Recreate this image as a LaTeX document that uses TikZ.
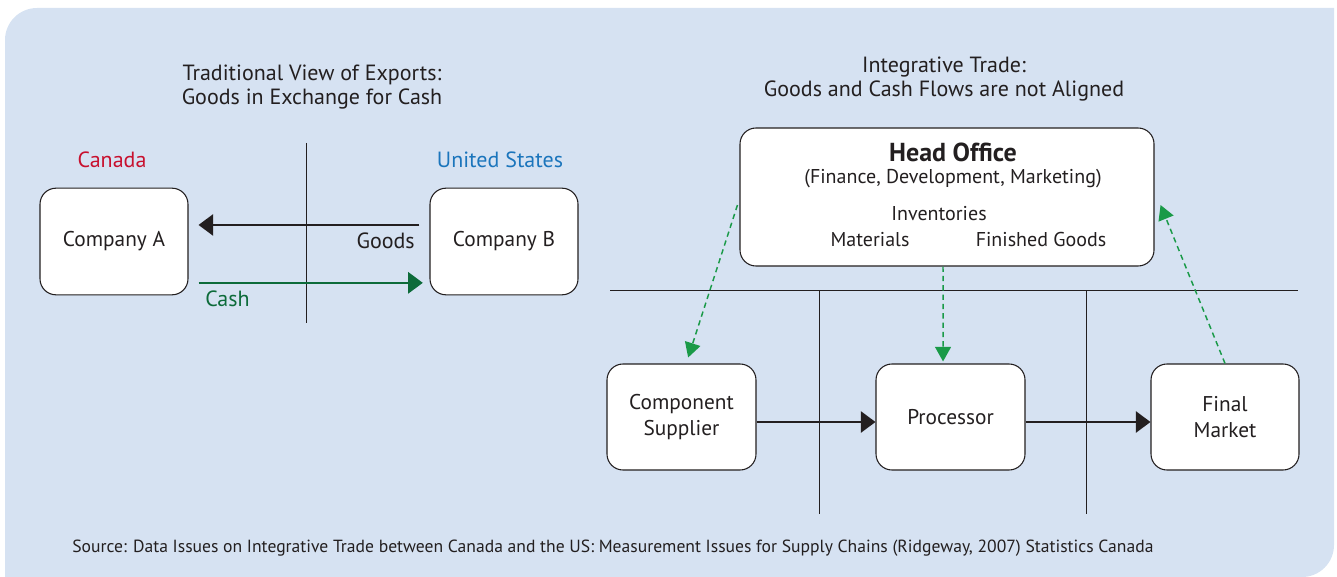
\documentclass[tikz,border=0pt]{standalone}
\usepackage{fontspec}
\setmainfont{PT Sans}
\usetikzlibrary{arrows.meta}
\definecolor{panel}{HTML}{D6E2F2}
\definecolor{canred}{HTML}{C8102E}
\definecolor{usblue}{HTML}{1B75BC}
\definecolor{cashgreen}{HTML}{0D6B3A}
\definecolor{flowgreen}{HTML}{1A9A48}
\definecolor{ink}{HTML}{231F20}
\tikzset{
  firm/.style={draw=ink, line width=0.8pt, fill=white, rounded corners=12pt, inner sep=0pt,
    font=\fontsize{16}{19}\selectfont, text=ink, align=center},
  lbl/.style={font=\fontsize{16.5}{18}\selectfont, text=ink, align=center, inner sep=0pt},
  inner/.style={lbl, font=\fontsize{15}{17}\selectfont},
  divider/.style={draw=ink, line width=0.75pt},
  goodsflow/.style={draw=ink, line width=1.4pt, -{Triangle[length=11pt,width=16pt]}},
  cashflow/.style={draw=cashgreen, line width=1.4pt, -{Triangle[length=11pt,width=16pt]}},
  moneyflow/.style={draw=flowgreen, line width=1.1pt, dash pattern=on 4pt off 3pt, -{Triangle[length=11pt,width=12pt]}},
}
\begin{document}
\begin{tikzpicture}[x=0.75pt,y=-0.75pt]
\useasboundingbox (0,0) rectangle (1337,577);
% background panel: rounded top-left and bottom-right corners
\fill[panel] (5,577) -- (5,40) arc[start angle=180,end angle=270,radius=32] -- (1334,8)
  -- (1334,545) arc[start angle=0,end angle=90,radius=32] -- cycle;

% ---- traditional view of exports ----
\node[lbl] (t1) at (312,87) {Traditional View of Exports:\\Goods in Exchange for Cash};
\node[lbl, text=canred] (can) at (112,160) {Canada};
\node[lbl, text=usblue] (us) at (500,160) {United States};
\draw[divider] (306,143) coordinate (bt) -- (306,323) coordinate (bb);
\node[firm, minimum width=111pt, minimum height=80pt] (ca) at (114,241.5) {Company A};
\node[firm, minimum width=111pt, minimum height=80pt] (cb) at (504,241.5) {Company B};
\draw[goodsflow] ([xshift=-7.5pt,yshift=12.4pt]cb.west) -- ([xshift=7.5pt,yshift=12.4pt]ca.east);
\draw[cashflow] ([xshift=7.5pt,yshift=-31pt]ca.east) -- ([xshift=-5pt,yshift=-31pt]cb.west);
\node[lbl, anchor=east] (gl) at (415,241) {Goods};
\node[lbl, anchor=west, text=cashgreen] (cl) at (205,299) {Cash};

% ---- integrative trade ----
\node[lbl] (t2) at (944,79.5) {Integrative Trade:\\Goods and Cash Flows are not Aligned};
\draw[divider] (610,290) coordinate (hl) -- (1298,290) coordinate (hr);
\draw[divider] (819,291) coordinate (v1t) -- (819,514) coordinate (v1b);
\draw[divider] (1086,291) coordinate (v2t) -- (1086,514) coordinate (v2b);
\node[firm, minimum width=310.5pt, minimum height=103.5pt] (ho) at (947,197) {};
\node[lbl, font=\bfseries\fontsize{19.5}{21}\selectfont] (hot) at (953,152) {Head Office};
\node[inner] (hos) at (953,179) {(Finance, Development, Marketing)};
\node[inner] (inv) at (939,214) {Inventories};
\node[inner] (mat) at (870,240) {Materials};
\node[inner] (fin) at (1041,240) {Finished Goods};
\node[firm, minimum width=111.75pt, minimum height=79.5pt] (sup) at (681.5,417) {Component\\Supplier};
\node[firm, minimum width=111.75pt, minimum height=79.5pt] (pro) at (950.5,417) {Processor};
\node[firm, minimum width=111pt, minimum height=79.5pt] (mkt) at (1225,417) {Final\\Market};
\draw[goodsflow] ([yshift=-3.75pt]sup.east) -- ([yshift=-3.75pt]pro.west);
\draw[goodsflow] ([yshift=-3.75pt]pro.east) -- ([yshift=-3.75pt]mkt.west);
\draw[moneyflow] ([xshift=-1.5pt,yshift=-6pt]ho.west) -- ([xshift=5pt,yshift=4.5pt]sup.north);
\draw[moneyflow] ([xshift=-3pt]ho.south) -- ([xshift=-5.6pt,yshift=1.5pt]pro.north);
\draw[moneyflow] (mkt.north) -- ([xshift=4.5pt,yshift=-6pt]ho.east);

\node[lbl, anchor=west, font=\fontsize{13.2}{15}\selectfont] (src) at (72,548)
  {Source: Data Issues on Integrative Trade between Canada and the US: Measurement Issues for Supply Chains (Ridgeway, 2007) Statistics Canada};
\end{tikzpicture}
\end{document}
